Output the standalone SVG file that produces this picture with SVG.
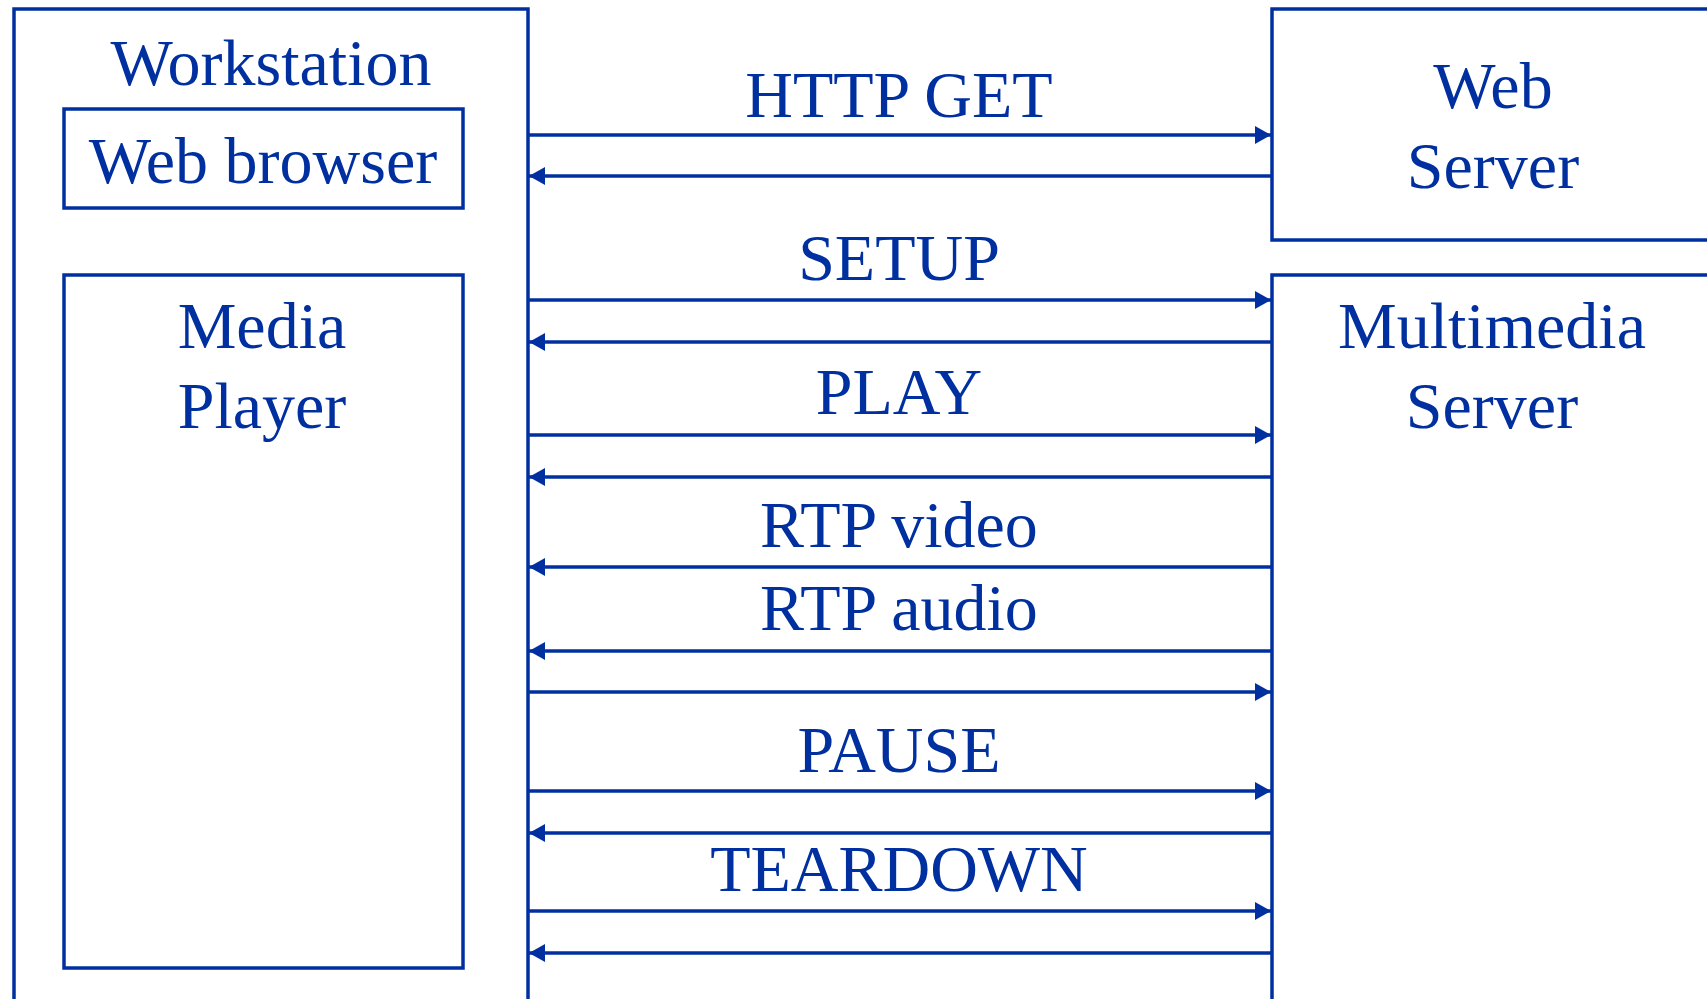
<svg xmlns="http://www.w3.org/2000/svg" width="1707" height="999" viewBox="0 0 1707 999">
<style>
.box{fill:none;stroke:#0030A0;stroke-width:3.5}
.lbl{font-family:"Liberation Serif","Times New Roman",serif;font-size:66px;fill:#0030A0;text-anchor:middle}
.msg{stroke:#0030A0;stroke-width:3.5;fill:none;marker-end:url(#ah)}
</style>
<defs>
<marker id="ah" markerUnits="userSpaceOnUse" markerWidth="16" markerHeight="18" viewBox="0 0 16 18" refX="16" refY="9" orient="auto">
<path d="M0,0 L16,9 L0,18 z" fill="#0030A0"/>
</marker>
</defs>
<rect width="1707" height="999" fill="#ffffff"/>
<g id="workstation">
<rect class="box" x="14" y="9" width="514" height="1010"/>
<text class="lbl" x="271" y="85">Workstation</text>
</g>
<g id="web-browser">
<rect class="box" x="64" y="109" width="399" height="99"/>
<text class="lbl" x="263" y="183">Web browser</text>
</g>
<g id="media-player">
<rect class="box" x="64" y="275" width="399" height="693"/>
<text class="lbl" x="262" y="348">Media</text>
<text class="lbl" x="262" y="428">Player</text>
</g>
<g id="web-server">
<rect class="box" x="1272" y="9" width="500" height="231"/>
<text class="lbl" x="1493" y="108">Web</text>
<text class="lbl" x="1493" y="188">Server</text>
</g>
<g id="multimedia-server">
<rect class="box" x="1272" y="275" width="500" height="800"/>
<text class="lbl" x="1492" y="348">Multimedia</text>
<text class="lbl" x="1492" y="428">Server</text>
</g>
<g id="connectors">
<line class="msg" x1="528" y1="135" x2="1271" y2="135"/>
<line class="msg" x1="1272" y1="176" x2="529" y2="176"/>
<line class="msg" x1="528" y1="300" x2="1271" y2="300"/>
<line class="msg" x1="1272" y1="342" x2="529" y2="342"/>
<line class="msg" x1="528" y1="435" x2="1271" y2="435"/>
<line class="msg" x1="1272" y1="477" x2="529" y2="477"/>
<line class="msg" x1="1272" y1="567" x2="529" y2="567"/>
<line class="msg" x1="1272" y1="651" x2="529" y2="651"/>
<line class="msg" x1="528" y1="692" x2="1271" y2="692"/>
<line class="msg" x1="528" y1="791" x2="1271" y2="791"/>
<line class="msg" x1="1272" y1="833" x2="529" y2="833"/>
<line class="msg" x1="528" y1="911" x2="1271" y2="911"/>
<line class="msg" x1="1272" y1="953" x2="529" y2="953"/>
</g>
<g id="labels">
<text class="lbl" x="899" y="117">HTTP GET</text>
<text class="lbl" x="899" y="280">SETUP</text>
<text class="lbl" x="899" y="414">PLAY</text>
<text class="lbl" x="899" y="547">RTP video</text>
<text class="lbl" x="899" y="630">RTP audio</text>
<text class="lbl" x="899" y="772">PAUSE</text>
<text class="lbl" x="899" y="891">TEARDOWN</text>
</g>
</svg>
